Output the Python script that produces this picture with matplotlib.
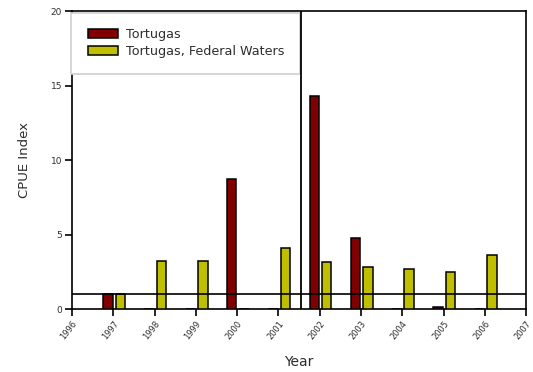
import matplotlib
matplotlib.use("Agg")
import matplotlib.pyplot as plt
from matplotlib.patches import Rectangle

plt.rcParams['font.family'] = ['DejaVu Sans']

# data
years = [1997, 1998, 1999, 2000, 2001, 2002, 2003, 2004, 2005, 2006]
tortugas = [1.0, 0, 0, 8.75, 0, 14.3, 4.76, 0, 0.12, 0]
tortugas_fed = [1.0, 3.2, 3.2, 0, 4.13, 3.15, 2.82, 2.68, 2.52, 3.64]
tick_years = list(range(1996, 2008))
ref_level = 1.0
break_year = 2001.55

red = '#800000'
yellow = '#bfbf00'
txt = '#2e2e2e'

fig = plt.figure(figsize=(5.33, 3.72), dpi=100)
ax = fig.add_axes([0.135, 0.169, 0.852, 0.801])

w = 0.23
ax.bar([y - 0.13 for y in years], tortugas, width=w, color=red,
       edgecolor='black', linewidth=1.1, label='Tortugas', zorder=3)
ax.bar([y + 0.17 for y in years], tortugas_fed, width=w, color=yellow,
       edgecolor='black', linewidth=1.1, label='Tortugas, Federal Waters', zorder=3)

ax.axhline(ref_level, color='black', lw=1.2, zorder=4)
ax.axvline(break_year, color='black', lw=1.3, zorder=6)

ax.set_xlim(1996, 2007)
ax.set_ylim(0, 20)
ax.set_xticks(tick_years)
ax.set_xticklabels([str(y) for y in tick_years], rotation=52, ha='right',
                   rotation_mode='anchor', fontsize=6, color=txt)
ax.set_yticks([0, 5, 10, 15, 20])
ax.set_yticklabels(['0', '5', '10', '15', '20'], fontsize=6.5, color=txt)
ax.tick_params(direction='out', length=5, width=1.2, pad=2)
for s in ax.spines.values():
    s.set_linewidth(1.2)

ax.set_xlabel('Year', fontsize=10, color=txt, labelpad=10)
ax.set_ylabel('CPUE Index', fontsize=9.5, color=txt, labelpad=14)

# legend box
box = Rectangle((-0.002, 0.79), 0.505, 0.203, transform=ax.transAxes,
                facecolor='white', edgecolor='#d0d0d0', lw=1.2, zorder=5,
                clip_on=False)
ax.add_patch(box)
leg = ax.legend(loc='upper left', bbox_to_anchor=(0.035, 0.945), frameon=False,
                prop={'size': 9.2}, handlelength=2.35,
                handleheight=0.7, labelspacing=0.33, handletextpad=0.62,
                borderpad=0, borderaxespad=0)
leg.set_zorder(7)
for t in leg.get_texts():
    t.set_color(txt)

fig.savefig('out.png', dpi=100)
